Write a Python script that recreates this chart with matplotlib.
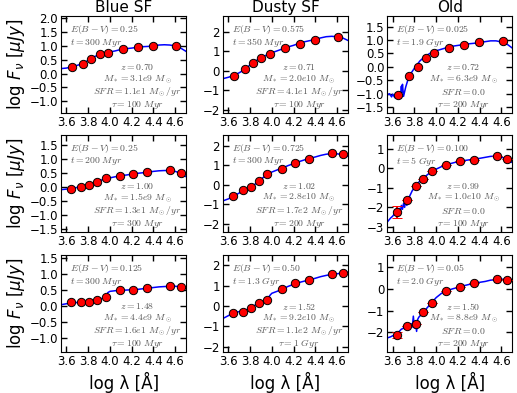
from __future__ import annotations

import matplotlib

matplotlib.use("Agg")
import matplotlib.pyplot as plt
from matplotlib.ticker import MultipleLocator

# columns / rows of the grid
column_titles = ["Blue SF", "Dusty SF", "Old"]

# photometric band positions (log lambda, Angstrom)
row1_logwl = [3.65, 3.75, 3.83, 3.905, 3.98, 4.12, 4.255, 4.395, 4.61]
row23_logwl = [3.64, 3.735, 3.81, 3.88, 3.96, 4.09, 4.215, 4.345, 4.555, 4.65]

# observed photometry, log F_nu [uJy]
flux_r1c1 = [0.24, 0.36, 0.54, 0.69, 0.76, 0.88, 0.95, 1.00, 1.01]
flux_r1c2 = [-0.25, 0.07, 0.40, 0.67, 0.87, 1.15, 1.37, 1.57, 1.73]
flux_r1c3 = [-1.05, -0.33, -0.01, 0.34, 0.52, 0.71, 0.83, 0.92, 0.95]
flux_r2c1 = [-0.06, 0.01, 0.05, 0.18, 0.31, 0.39, 0.47, 0.53, 0.61, 0.48]
flux_r2c2 = [-0.57, -0.29, -0.12, 0.21, 0.55, 0.83, 1.12, 1.34, 1.60, 1.55]
flux_r2c3 = [-2.22, -1.61, -0.90, -0.53, -0.17, 0.17, 0.34, 0.42, 0.63, 0.46]
flux_r3c1 = [0.11, 0.12, 0.14, 0.20, 0.27, 0.51, 0.50, 0.55, 0.63, 0.61]
flux_r3c2 = [-0.33, -0.30, -0.08, 0.13, 0.30, 0.84, 1.12, 1.29, 1.55, 1.62]
flux_r3c3 = [-2.13, -1.70, -1.59, -1.08, -0.66, -0.11, 0.09, 0.25, 0.44, 0.41]

# photometric errors (only visible ones are non-zero)
err_r2c3 = [0.30, 0, 0, 0, 0, 0, 0, 0, 0, 0]
err_r3c3 = [0.14, 0, 0, 0, 0, 0, 0, 0, 0, 0]

# best-fit model spectra
model_grid = [3.55, 3.60, 3.65, 3.70, 3.75, 3.80, 3.85, 3.90, 3.95, 4.00, 4.05, 4.10,
              4.15, 4.20, 4.25, 4.30, 4.35, 4.40, 4.45, 4.50, 4.55, 4.60, 4.65, 4.70]
model_r1c1 = [0.18, 0.20, 0.24, 0.30, 0.36, 0.48, 0.60, 0.68, 0.74, 0.78, 0.82, 0.87,
              0.90, 0.92, 0.95, 0.97, 0.98, 1.00, 1.03, 1.04, 1.03, 1.00, 0.92, 0.80]
model_r1c2 = [-0.40, -0.33, -0.24, -0.10, 0.06, 0.30, 0.50, 0.66, 0.80, 0.92, 1.02, 1.12,
              1.22, 1.30, 1.40, 1.48, 1.54, 1.60, 1.68, 1.74, 1.76, 1.74, 1.68, 1.55]
model_r2c1 = [-0.10, -0.08, -0.05, -0.02, 0.02, 0.05, 0.12, 0.21, 0.28, 0.32, 0.36, 0.40,
              0.42, 0.45, 0.48, 0.50, 0.52, 0.55, 0.57, 0.58, 0.58, 0.55, 0.48, 0.36]
model_r2c2 = [-0.82, -0.72, -0.58, -0.42, -0.27, -0.14, 0.05, 0.28, 0.50, 0.65, 0.76, 0.86,
              0.98, 1.08, 1.18, 1.27, 1.35, 1.42, 1.50, 1.56, 1.59, 1.58, 1.54, 1.45]

model_x_r1c3 = [3.55, 3.57, 3.59, 3.60, 3.62, 3.63, 3.65, 3.67, 3.68, 3.685, 3.69, 3.70,
                3.72, 3.75, 3.80, 3.85, 3.90, 3.95, 4.00, 4.05, 4.10, 4.15, 4.20, 4.25,
                4.30, 4.35, 4.40, 4.45, 4.50, 4.55, 4.60, 4.65, 4.70]
model_r1c3 = [-1.05, -1.00, -1.12, -1.02, -1.15, -1.00, -1.08, -1.15, -0.72, -0.95, -0.65,
              -1.10, -0.75, -0.35, -0.05, 0.22, 0.40, 0.52, 0.60, 0.66, 0.72, 0.77, 0.80,
              0.83, 0.86, 0.88, 0.91, 0.94, 0.97, 0.97, 0.93, 0.85, 0.70]

model_x_r2c3 = [3.55, 3.58, 3.60, 3.62, 3.63, 3.64, 3.66, 3.67, 3.68, 3.69, 3.70, 3.71,
                3.72, 3.73, 3.74, 3.75, 3.78, 3.81, 3.85, 3.90, 3.95, 4.00, 4.05, 4.10,
                4.15, 4.20, 4.25, 4.30, 4.35, 4.40, 4.45, 4.50, 4.55, 4.60, 4.65, 4.70]
model_r2c3 = [-2.75, -2.55, -2.45, -2.30, -2.10, -2.35, -2.05, -2.25, -1.90, -2.10, -1.80,
              -2.00, -1.60, -1.90, -1.55, -1.50, -1.15, -0.92, -0.65, -0.42, -0.20, -0.05,
              0.08, 0.18, 0.26, 0.33, 0.38, 0.42, 0.46, 0.50, 0.55, 0.60, 0.61, 0.56, 0.46,
              0.28]

model_x_r3 = [3.55, 3.60, 3.65, 3.70, 3.75, 3.80, 3.85, 3.90, 3.95, 3.97, 3.98, 4.00,
              4.05, 4.10, 4.15, 4.20, 4.25, 4.30, 4.35, 4.40, 4.45, 4.50, 4.55, 4.60,
              4.65, 4.70]
model_r3c1 = [0.04, 0.07, 0.10, 0.11, 0.12, 0.14, 0.17, 0.21, 0.26, 0.30, 0.42, 0.46,
              0.48, 0.49, 0.50, 0.51, 0.52, 0.54, 0.56, 0.58, 0.60, 0.61, 0.62, 0.62,
              0.60, 0.56]
model_r3c2 = [-0.62, -0.48, -0.33, -0.28, -0.24, -0.10, 0.05, 0.16, 0.26, 0.35, 0.50,
              0.62, 0.72, 0.84, 0.96, 1.06, 1.15, 1.22, 1.28, 1.36, 1.44, 1.50, 1.55,
              1.58, 1.62, 1.66]

model_x_r3c3 = [3.55, 3.58, 3.60, 3.64, 3.68, 3.70, 3.71, 3.72, 3.73, 3.75, 3.77, 3.78,
                3.79, 3.80, 3.81, 3.82, 3.83, 3.84, 3.88, 3.92, 3.96, 4.00, 4.05, 4.10,
                4.15, 4.20, 4.25, 4.30, 4.35, 4.40, 4.45, 4.50, 4.55, 4.60, 4.65, 4.70]
model_r3c3 = [-2.25, -2.20, -2.15, -2.05, -1.85, -1.80, -1.65, -1.85, -1.70, -1.68,
              -1.60, -1.75, -1.25, -1.80, -1.60, -1.95, -1.40, -1.30, -1.08, -0.85,
              -0.62, -0.40, -0.20, -0.08, 0.00, 0.07, 0.14, 0.20, 0.26, 0.30, 0.34,
              0.40, 0.42, 0.44, 0.44, 0.42]

# fit parameters shown in each panel (row-major order)
ebv_labels = ["0.25", "0.575", "0.025", "0.25", "0.725", "0.100", "0.125", "0.50", "0.05"]
age_labels = ["300\\ Myr", "350\\ Myr", "1.9\\ Gyr", "200\\ Myr", "300\\ Myr", "5\\ Gyr",
              "300\\ Myr", "1.3\\ Gyr", "2.0\\ Gyr"]
z_labels = ["0.70", "0.71", "0.72", "1.00", "1.02", "0.99", "1.48", "1.52", "1.50"]
mass_labels = ["3.1e9", "2.0e10", "6.3e9", "1.5e9", "2.8e10", "1.0e10", "4.4e9", "9.2e10", "8.8e9"]
sfr_labels = ["1.1e1", "4.1e1", "0.0", "1.3e1", "1.7e2", "0.0", "1.6e1", "1.1e2", "0.0"]
tau_labels = ["100\\ Myr", "100\\ Myr", "200\\ Myr", "300\\ Myr", "200\\ Myr", "100\\ Myr",
              "100\\ Myr", "1\\ Gyr", "200\\ Myr"]

y_limits = [(-1.42, 2.08), (-2.15, 2.8), (-1.72, 1.9),
            (-1.6, 1.85), (-2.4, 2.55), (-3.25, 1.7),
            (-1.45, 1.6), (-2.27, 2.5), (-2.9, 1.55)]
y_steps = [0.5, 1, 0.5, 0.5, 1, 1, 0.5, 1, 1]


def draw_panel(ax, idx, phot_x, flux, err, model_x, model_y):
    ax.plot(model_x, model_y, color="#0000ff", lw=1.1, zorder=2)
    ax.errorbar(phot_x, flux, yerr=err, fmt="o", ms=6, mfc="red", mec="black", mew=0.7,
                ecolor="red", elinewidth=1.5, capsize=3.5, capthick=1.5, zorder=3)
    ax.set_xlim(3.55, 4.7)
    ax.set_ylim(*y_limits[idx])
    ax.xaxis.set_major_locator(MultipleLocator(0.2))
    ax.yaxis.set_major_locator(MultipleLocator(y_steps[idx]))
    ax.tick_params(direction="in", top=True, right=True, length=4, width=1, labelsize=8.5, pad=2)

    text_kw = dict(transform=ax.transAxes, fontsize=7.0, color="0.35", math_fontfamily="cm")
    ax.text(0.07, 0.86, f"$E(B-V)={ebv_labels[idx]}$", va="center", ha="left", **text_kw)
    ax.text(0.07, 0.725, f"$t={age_labels[idx]}$", va="center", ha="left", **text_kw)
    sfr = sfr_labels[idx]
    sfr_text = f"$SFR={sfr}$" if sfr == "0.0" else f"$SFR={sfr}\\ M_\\odot/yr$"
    block = [f"$z={z_labels[idx]}$", f"$M_*={mass_labels[idx]}\\ M_\\odot$", sfr_text,
             f"$\\tau={tau_labels[idx]}$"]
    for k, line in enumerate(block):
        ax.text(0.61, 0.475 - 0.13 * k, line, va="center", ha="center", **text_kw)


def main() -> None:
    fig = plt.figure(figsize=(5.17, 3.93), dpi=100)
    lefts = [0.118, 0.431, 0.749]
    bottoms = [0.7125, 0.410, 0.104]
    width, height = 0.242, 0.247

    panels = [
        (row1_logwl, flux_r1c1, None, model_grid, model_r1c1),
        (row1_logwl, flux_r1c2, None, model_grid, model_r1c2),
        (row1_logwl, flux_r1c3, None, model_x_r1c3, model_r1c3),
        (row23_logwl, flux_r2c1, None, model_grid, model_r2c1),
        (row23_logwl, flux_r2c2, None, model_grid, model_r2c2),
        (row23_logwl, flux_r2c3, err_r2c3, model_x_r2c3, model_r2c3),
        (row23_logwl, flux_r3c1, None, model_x_r3, model_r3c1),
        (row23_logwl, flux_r3c2, None, model_x_r3, model_r3c2),
        (row23_logwl, flux_r3c3, err_r3c3, model_x_r3c3, model_r3c3),
    ]
    for idx, (px, fl, er, mx, my) in enumerate(panels):
        row, col = divmod(idx, 3)
        ax = fig.add_axes([lefts[col], bottoms[row], width, height])
        draw_panel(ax, idx, px, fl, er, mx, my)
        if row == 0:
            ax.set_title(column_titles[col], fontsize=11, pad=3)
        if col == 0:
            ax.set_ylabel(r"log $F_\nu$ [$\mu Jy$]", fontsize=12, labelpad=2)
        if row == 2:
            ax.set_xlabel("log λ [Å]", fontsize=12, labelpad=3)

    fig.savefig("out.png", dpi=100)
    plt.close(fig)


if __name__ == "__main__":
    main()
